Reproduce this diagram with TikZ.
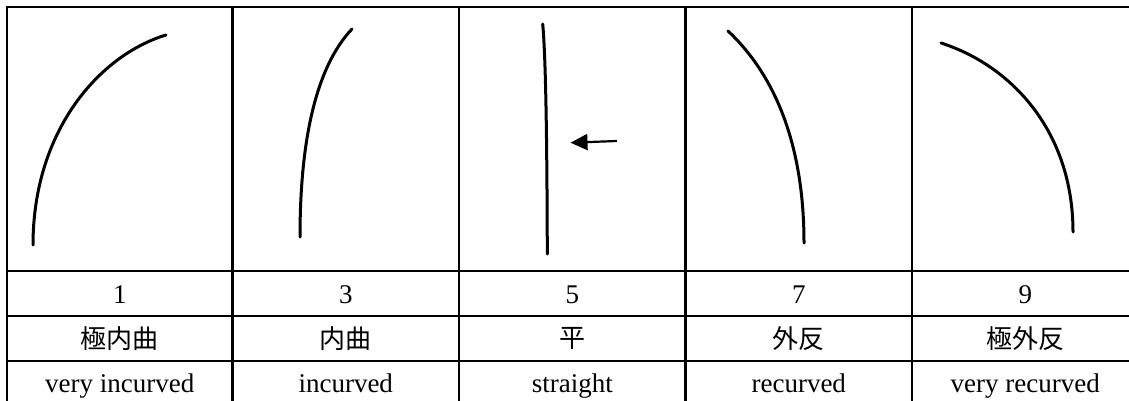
\documentclass[tikz,border=0pt]{standalone}
\usepackage{fontspec}
\setmainfont{Liberation Serif}
\newfontfamily\cjk{Noto Sans CJK JP}
\usetikzlibrary{arrows.meta}
\begin{document}
\begin{tikzpicture}[x=0.5pt,y=-0.5pt,
  gridline/.style={line width=1.25pt, line cap=rect},
  stem/.style={line width=1.5pt, line cap=round},
  pointer/.style={line width=1.1pt, -{Triangle[length=8.5pt,width=8pt]}},
  lbl/.style={font=\fontsize{13.5}{16}\selectfont, inner sep=0pt, anchor=base},
  cjklbl/.style={font=\cjk\fontsize{13}{15}\selectfont, inner sep=0pt, anchor=center}]
\useasboundingbox (0,0) rectangle (1129,401);
\clip (0,0) rectangle (1129,401);
\fill[white] (0,0) rectangle (1129,401);
% grid
\foreach \yy in {7,271,316,361} \draw[gridline] (7,\yy) -- (1145,\yy);
\foreach \xx in {7,232.5,459,685.5,912,1138.5} \draw[gridline] (\xx,7) -- (\xx,410);
% shapes
\draw[stem] (33,245) .. controls (33,130) and (100,55) .. (166,35);
\draw[stem] (300,237) .. controls (300,140) and (316,67) .. (352,29);
\draw[stem] (542.7,24) .. controls (546,60) and (547,150) .. (547.3,254);
\draw[stem] (804,243) .. controls (804,150) and (778,78) .. (728,31);
\draw[stem] (1073,232) .. controls (1073,130) and (1010,65) .. (941,43);
\coordinate (atail) at (617,141);
\coordinate (ahead) at (570.5,142.7);
\draw[pointer] (atail) -- (ahead);
% row: numbers
\node[lbl] (n1) at (119.75,303) {1};
\node[lbl] (n3) at (345.75,303) {3};
\node[lbl] (n5) at (572.25,303) {5};
\node[lbl] (n7) at (798.75,303) {7};
\node[lbl] (n9) at (1025.25,303) {9};
% row: chinese
\node[cjklbl] (c1) at (119.75,338.5) {極内曲};
\node[cjklbl] (c3) at (345.75,338.5) {内曲};
\node[cjklbl] (c5) at (572.25,338.5) {平};
\node[cjklbl] (c7) at (798.75,338.5) {外反};
\node[cjklbl] (c9) at (1025.25,338.5) {極外反};
% row: english
\node[lbl] (e1) at (119.75,392) {very incurved};
\node[lbl] (e3) at (345.75,392) {incurved};
\node[lbl] (e5) at (572.25,392) {straight};
\node[lbl] (e7) at (798.75,392) {recurved};
\node[lbl] (e9) at (1025.25,392) {very recurved};
\end{tikzpicture}
\end{document}
